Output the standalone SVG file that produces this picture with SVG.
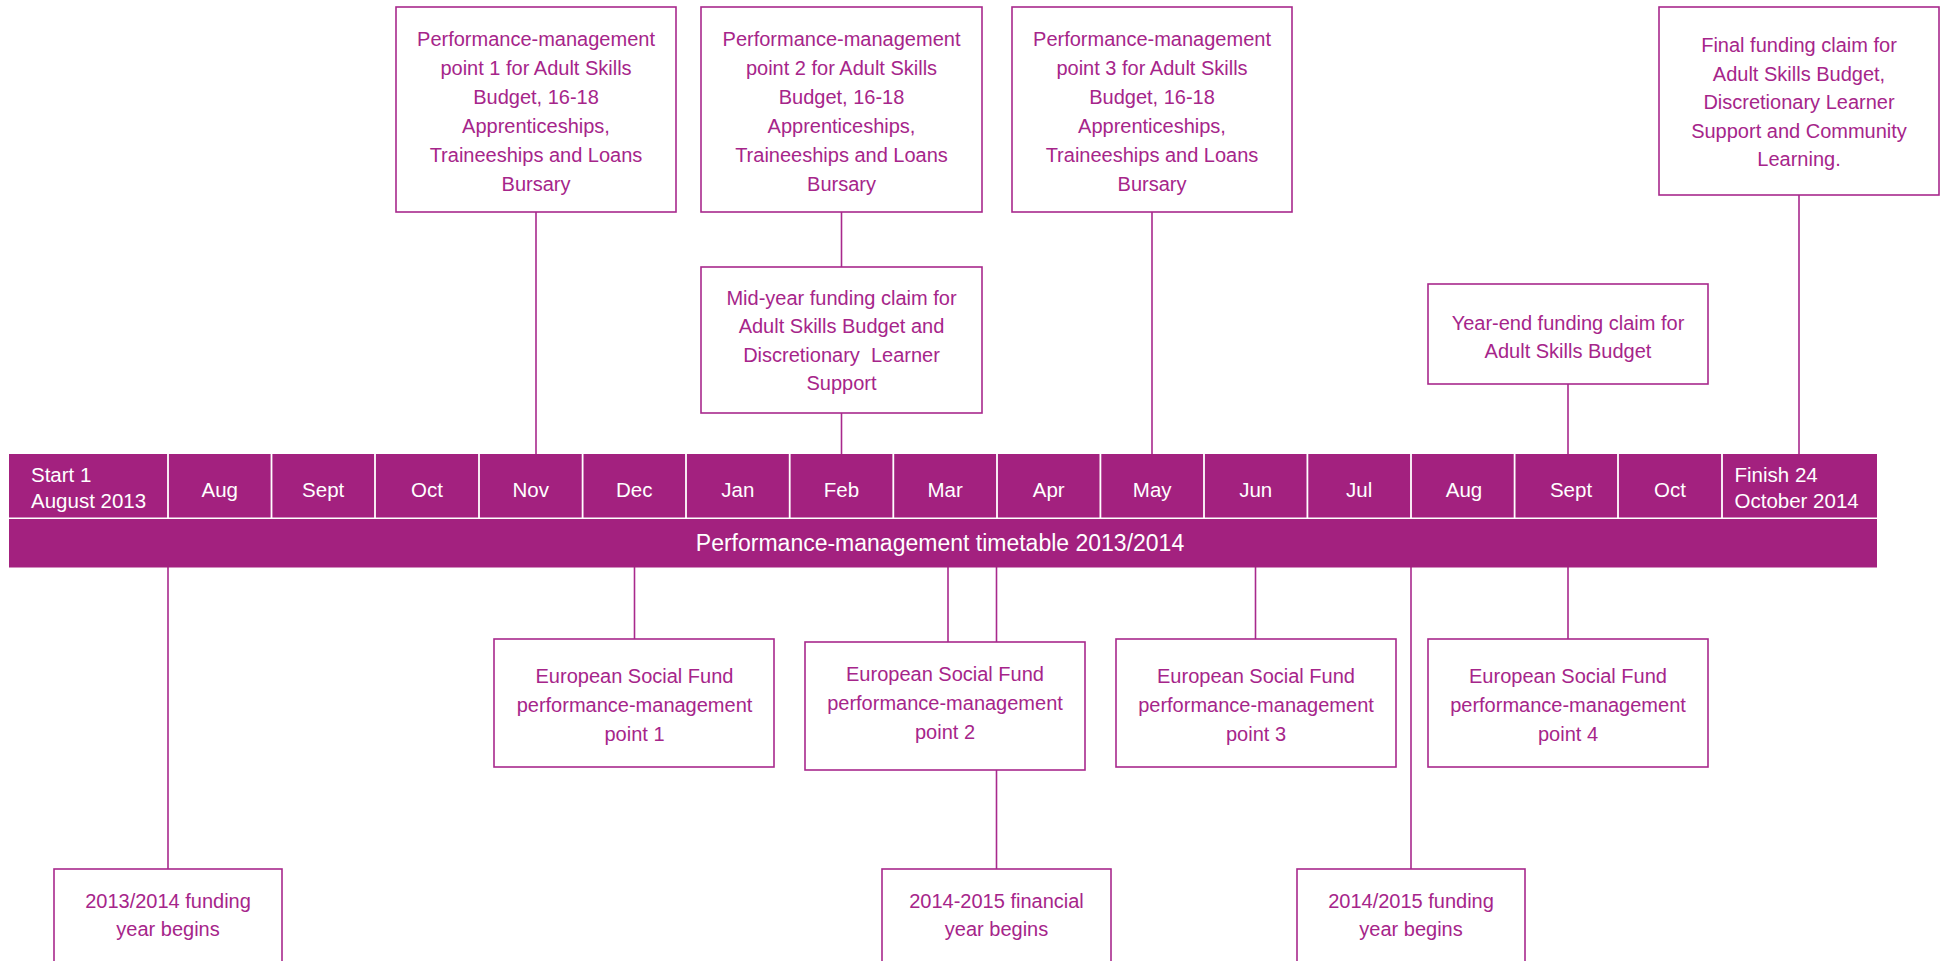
<svg xmlns="http://www.w3.org/2000/svg" width="1946" height="961" viewBox="0 0 1946 961">
<style>
.box{fill:#fff;stroke:#A8298C;stroke-width:1.6}
.t{font-family:"Liberation Sans",Arial,sans-serif;font-size:20px;fill:#A6258A;text-anchor:middle}
.m{font-family:"Liberation Sans",Arial,sans-serif;font-size:20.5px;fill:#fff;text-anchor:middle}
.ml{font-family:"Liberation Sans",Arial,sans-serif;font-size:20.5px;fill:#fff}
.title{font-family:"Liberation Sans",Arial,sans-serif;font-size:23px;fill:#fff;text-anchor:middle}
.c{stroke:#A8298C;stroke-width:1.6;fill:none}
.bar{fill:#A3217F}
.div{stroke:#fff;stroke-width:1.8}
</style>
<rect width="1946" height="961" fill="#fff"/>

<g id="connectors">
<line class="c" x1="536" y1="212" x2="536" y2="454"/>
<line class="c" x1="841.5" y1="212" x2="841.5" y2="267"/>
<line class="c" x1="841.5" y1="413" x2="841.5" y2="454"/>
<line class="c" x1="1152" y1="212" x2="1152" y2="454"/>
<line class="c" x1="1799" y1="195" x2="1799" y2="454"/>
<line class="c" x1="1568" y1="384" x2="1568" y2="454"/>
<line class="c" x1="168" y1="567" x2="168" y2="869"/>
<line class="c" x1="634.5" y1="567" x2="634.5" y2="639"/>
<line class="c" x1="948" y1="567" x2="948" y2="642"/>
<line class="c" x1="996.5" y1="567" x2="996.5" y2="642"/>
<line class="c" x1="996.5" y1="770" x2="996.5" y2="869"/>
<line class="c" x1="1255.5" y1="567" x2="1255.5" y2="639"/>
<line class="c" x1="1411" y1="567" x2="1411" y2="869"/>
<line class="c" x1="1568" y1="567" x2="1568" y2="639"/>
</g>

<g id="timeline">
<rect class="bar" x="9" y="454" width="1868" height="63.5"/>
<rect class="bar" x="9" y="519" width="1868" height="48.5"/>
<g class="div">
<line x1="168" y1="454" x2="168" y2="518"/>
<line x1="271.5" y1="454" x2="271.5" y2="518"/>
<line x1="375" y1="454" x2="375" y2="518"/>
<line x1="479" y1="454" x2="479" y2="518"/>
<line x1="582.6" y1="454" x2="582.6" y2="518"/>
<line x1="686" y1="454" x2="686" y2="518"/>
<line x1="789.7" y1="454" x2="789.7" y2="518"/>
<line x1="893.3" y1="454" x2="893.3" y2="518"/>
<line x1="997" y1="454" x2="997" y2="518"/>
<line x1="1100.4" y1="454" x2="1100.4" y2="518"/>
<line x1="1204" y1="454" x2="1204" y2="518"/>
<line x1="1307.4" y1="454" x2="1307.4" y2="518"/>
<line x1="1411" y1="454" x2="1411" y2="518"/>
<line x1="1514.6" y1="454" x2="1514.6" y2="518"/>
<line x1="1618" y1="454" x2="1618" y2="518"/>
<line x1="1722" y1="454" x2="1722" y2="518"/>
</g>
<text class="ml" x="31" y="482">Start 1</text>
<text class="ml" x="31" y="508">August 2013</text>
<text class="m" x="219.7" y="497">Aug</text>
<text class="m" x="323.2" y="497">Sept</text>
<text class="m" x="427" y="497">Oct</text>
<text class="m" x="530.8" y="497">Nov</text>
<text class="m" x="634.3" y="497">Dec</text>
<text class="m" x="737.8" y="497">Jan</text>
<text class="m" x="841.5" y="497">Feb</text>
<text class="m" x="945.1" y="497">Mar</text>
<text class="m" x="1048.7" y="497">Apr</text>
<text class="m" x="1152.2" y="497">May</text>
<text class="m" x="1255.7" y="497">Jun</text>
<text class="m" x="1359.2" y="497">Jul</text>
<text class="m" x="1464" y="497">Aug</text>
<text class="m" x="1571" y="497">Sept</text>
<text class="m" x="1670" y="497">Oct</text>
<text class="ml" x="1734.5" y="482">Finish 24</text>
<text class="ml" x="1734.5" y="508">October 2014</text>
<text class="title" x="940" y="551">Performance-management timetable 2013/2014</text>
</g>

<g id="pm1">
<rect class="box" x="396" y="7" width="280" height="205"/>
<text class="t" x="536" y="46">Performance-management</text>
<text class="t" x="536" y="75">point 1 for Adult Skills</text>
<text class="t" x="536" y="104">Budget, 16-18</text>
<text class="t" x="536" y="133">Apprenticeships,</text>
<text class="t" x="536" y="162">Traineeships and Loans</text>
<text class="t" x="536" y="191">Bursary</text>
</g>

<g id="pm2">
<rect class="box" x="701" y="7" width="281" height="205"/>
<text class="t" x="841.5" y="46">Performance-management</text>
<text class="t" x="841.5" y="75">point 2 for Adult Skills</text>
<text class="t" x="841.5" y="104">Budget, 16-18</text>
<text class="t" x="841.5" y="133">Apprenticeships,</text>
<text class="t" x="841.5" y="162">Traineeships and Loans</text>
<text class="t" x="841.5" y="191">Bursary</text>
</g>

<g id="pm3">
<rect class="box" x="1012" y="7" width="280" height="205"/>
<text class="t" x="1152" y="46">Performance-management</text>
<text class="t" x="1152" y="75">point 3 for Adult Skills</text>
<text class="t" x="1152" y="104">Budget, 16-18</text>
<text class="t" x="1152" y="133">Apprenticeships,</text>
<text class="t" x="1152" y="162">Traineeships and Loans</text>
<text class="t" x="1152" y="191">Bursary</text>
</g>

<g id="final-claim">
<rect class="box" x="1659" y="7" width="280" height="188"/>
<text class="t" x="1799" y="52">Final funding claim for</text>
<text class="t" x="1799" y="81">Adult Skills Budget,</text>
<text class="t" x="1799" y="109">Discretionary Learner</text>
<text class="t" x="1799" y="138">Support and Community</text>
<text class="t" x="1799" y="166">Learning.</text>
</g>

<g id="mid-year-claim">
<rect class="box" x="701" y="267" width="281" height="146"/>
<text class="t" x="841.5" y="305">Mid-year funding claim for</text>
<text class="t" x="841.5" y="333">Adult Skills Budget and</text>
<text class="t" x="841.5" y="362" xml:space="preserve">Discretionary  Learner</text>
<text class="t" x="841.5" y="390">Support</text>
</g>

<g id="year-end-claim">
<rect class="box" x="1428" y="284" width="280" height="100"/>
<text class="t" x="1568" y="330">Year-end funding claim for</text>
<text class="t" x="1568" y="358">Adult Skills Budget</text>
</g>

<g id="esf1">
<rect class="box" x="494" y="639" width="280" height="128"/>
<text class="t" x="634.5" y="683">European Social Fund</text>
<text class="t" x="634.5" y="712">performance-management</text>
<text class="t" x="634.5" y="741">point 1</text>
</g>

<g id="esf2">
<rect class="box" x="805" y="642" width="280" height="128"/>
<text class="t" x="945" y="681">European Social Fund</text>
<text class="t" x="945" y="710">performance-management</text>
<text class="t" x="945" y="739">point 2</text>
</g>

<g id="esf3">
<rect class="box" x="1116" y="639" width="280" height="128"/>
<text class="t" x="1256" y="683">European Social Fund</text>
<text class="t" x="1256" y="712">performance-management</text>
<text class="t" x="1256" y="741">point 3</text>
</g>

<g id="esf4">
<rect class="box" x="1428" y="639" width="280" height="128"/>
<text class="t" x="1568" y="683">European Social Fund</text>
<text class="t" x="1568" y="712">performance-management</text>
<text class="t" x="1568" y="741">point 4</text>
</g>

<g id="funding-year-2013">
<rect class="box" x="54" y="869" width="228" height="120"/>
<text class="t" x="168" y="908">2013/2014 funding</text>
<text class="t" x="168" y="936">year begins</text>
</g>

<g id="financial-year-2014">
<rect class="box" x="882" y="869" width="229" height="120"/>
<text class="t" x="996.5" y="908">2014-2015 financial</text>
<text class="t" x="996.5" y="936">year begins</text>
</g>

<g id="funding-year-2014">
<rect class="box" x="1297" y="869" width="228" height="120"/>
<text class="t" x="1411" y="908">2014/2015 funding</text>
<text class="t" x="1411" y="936">year begins</text>
</g>
</svg>
